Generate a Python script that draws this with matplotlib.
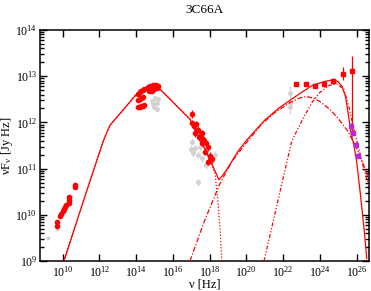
import numpy as np
import matplotlib
matplotlib.use("Agg")
import matplotlib.pyplot as plt
from matplotlib.ticker import FixedLocator, LogLocator, NullLocator

plt.rcParams['font.family'] = ['Liberation Serif', 'DejaVu Serif']
plt.rcParams['mathtext.fontset'] = 'custom'
plt.rcParams['mathtext.rm'] = 'Liberation Serif'
plt.rcParams['mathtext.it'] = 'Liberation Serif:italic'

RED = '#ff0000'
GRAY = '#d2d2d2'
PURPLE = '#b428e6'

# model curves, log10(nu) / log10(nuFnu)
total_lognu = [10.07, 10.6, 11.2, 11.8, 12.2, 12.4, 12.58, 13.12, 13.7, 14.21, 14.7, 15.14,
               15.6, 16.0, 16.5, 16.93, 17.5, 18.02, 18.29, 18.5, 18.7, 19.0, 19.55,
               20.02, 21.0, 21.8, 22.38, 23.0, 23.63, 24.3, 24.72, 25.0, 25.2, 25.4,
               25.55, 25.7, 25.85, 26.0, 26.2, 26.4, 26.55]
total_logf = [9.0, 9.65, 10.38, 11.1, 11.58, 11.78, 11.94, 12.19, 12.46, 12.70, 12.76, 12.78,
              12.60, 12.44, 12.24, 12.07, 11.62, 11.19, 10.95, 10.76, 10.85, 11.02, 11.38,
              11.62, 12.05, 12.32, 12.48, 12.65, 12.81, 12.89, 12.92, 12.88, 12.78, 12.55,
              12.15, 11.75, 11.5, 11.15, 10.45, 9.7, 9.05]

sync_tail_lognu = [18.29, 18.45, 18.58, 18.66]
sync_tail_logf = [10.9, 10.3, 9.6, 9.0]

ssc_lognu = [16.93, 17.7, 18.53, 19.2, 19.55, 20.02, 20.8, 21.5, 22.38, 22.9, 23.28,
             23.7, 24.0, 24.55, 25.0, 25.5, 26.0, 26.4, 26.67]
ssc_logf = [9.0, 9.85, 10.65, 11.15, 11.33, 11.57, 11.95, 12.2, 12.43, 12.53, 12.56,
            12.52, 12.45, 12.28, 12.08, 11.82, 11.45, 11.05, 10.8]

ec_lognu = [20.96, 21.5, 22.0, 22.47, 23.1, 23.6, 24.0, 24.5, 24.9, 25.3, 25.6, 25.82,
            26.09, 26.36, 26.67]
ec_logf = [9.0, 9.93, 10.8, 11.6, 12.1, 12.45, 12.65, 12.8, 12.84, 12.72, 12.3, 11.9,
           11.47, 11.04, 10.62]

# data points
radio_lognu = [9.70, 9.70, 9.88, 9.93, 10.04, 10.10, 10.15, 10.20, 10.35, 10.35, 10.35, 10.65, 10.66]
radio_logf = [9.85, 9.76, 9.98, 10.01, 10.09, 10.12, 10.16, 10.21, 10.25, 10.32, 10.39, 10.60, 10.64]
radio_gray_lognu = [9.19, 9.70]
radio_gray_logf = [9.50, 9.70]

opt_lognu = [14.12, 14.20, 14.28, 14.36, 14.44,
             14.66, 14.72, 14.78, 14.84, 14.90, 14.95, 15.02, 15.08, 15.12, 15.18, 14.70, 14.88,
             14.12, 14.20, 14.28, 14.38,
             14.12, 14.20, 14.28, 14.36, 14.45]
opt_logf = [12.62, 12.66, 12.69, 12.71, 12.73,
            12.77, 12.73, 12.79, 12.75, 12.80, 12.72, 12.78, 12.80, 12.74, 12.78, 12.68, 12.69,
            12.49, 12.51, 12.53, 12.55,
            12.33, 12.34, 12.35, 12.36, 12.37]
opt_gray_lognu = [14.85, 14.94, 15.03, 15.12, 15.15, 14.98, 15.20]
opt_gray_logf = [12.46, 12.40, 12.52, 12.42, 12.29, 12.33, 12.50]

xray_lognu = [17.03, 17.03, 17.15, 17.26, 17.20, 17.38, 17.42, 17.57, 17.57, 17.66,
              17.75, 17.80, 17.93, 17.93, 18.02, 18.11]
xray_logf = [12.18, 11.98, 11.92, 11.96, 11.76, 11.84, 11.68, 11.76, 11.56, 11.64,
             11.37, 11.55, 11.47, 11.15, 11.27, 11.20]
xray_gray_lognu = [17.03, 17.20, 17.08, 17.48, 17.38, 17.57, 18.29, 17.80, 17.38, 17.00]
xray_gray_logf = [11.58, 11.44, 11.33, 11.47, 11.30, 11.22, 11.30, 11.08, 10.70, 11.42]

gam_lognu = [22.70, 23.23, 23.74, 24.23, 24.73, 25.24, 25.73]
gam_logf = [12.83, 12.83, 12.79, 12.83, 12.90, 13.05, 13.12]
gam_err_lo = [0.0, 0.0, 0.04, 0.06, 0.07, 0.14, 1.42]
gam_err_hi = [0.0, 0.0, 0.04, 0.06, 0.07, 0.15, 0.31]

fermi_gray_lognu = [22.38, 22.38, 22.38]
fermi_gray_logf = [12.63, 12.42, 12.34]

vhe_lognu = [25.70, 25.82, 25.94, 26.05]
vhe_logf = [11.92, 11.78, 11.51, 11.28]

xtick_exps = [10, 12, 14, 16, 18, 20, 22, 24, 26]


def p(a):
    return np.power(10.0, np.asarray(a, dtype=float))


def errs(logf, lo, hi):
    f = p(logf)
    return [f - p(np.asarray(logf) - np.asarray(lo)), p(np.asarray(logf) + np.asarray(hi)) - f]


fig = plt.figure(figsize=(3.71, 2.91), dpi=100)
ax = fig.add_axes([40 / 371, 30 / 291, 329 / 371, 231 / 291])
ax.set_xscale('log')
ax.set_yscale('log')

# gray archival data
ax.errorbar(p(radio_gray_lognu), p(radio_gray_logf), fmt='o', ms=1.8, color=GRAY, zorder=1)
ax.errorbar(p(opt_gray_lognu), p(opt_gray_logf), yerr=errs(opt_gray_logf, [0.04] * 7, [0.04] * 7),
            fmt='o', ms=2.5, color=GRAY, elinewidth=0.8, capsize=0, zorder=1)
ax.errorbar(p(xray_gray_lognu), p(xray_gray_logf),
            yerr=errs(xray_gray_logf, [0.08] * 10, [0.08] * 10),
            xerr=[p(xray_gray_lognu) * (1 - 10 ** -0.08), p(xray_gray_lognu) * (10 ** 0.08 - 1)],
            fmt='o', ms=2.5, color=GRAY, elinewidth=0.8, capsize=0, zorder=1)
ax.errorbar(p(fermi_gray_lognu), p(fermi_gray_logf),
            yerr=errs(fermi_gray_logf, [0.15] * 3, [0.15] * 3),
            fmt='o', ms=2.5, color=GRAY, elinewidth=0.8, capsize=0, zorder=1)

# model
ax.plot(p(total_lognu), p(total_logf), '-', color=RED, lw=0.9, zorder=3)
ax.plot(p(total_lognu[:18] + sync_tail_lognu), p(total_logf[:18] + sync_tail_logf),
        linestyle=(0, (1, 1.5)), color=RED, lw=0.9, zorder=3)
ax.plot(p(ssc_lognu), p(ssc_logf), linestyle=(0, (4, 1.5, 1, 1.5)), color=RED, lw=0.9, zorder=3)
ax.plot(p(ec_lognu), p(ec_logf), linestyle=(0, (3, 1.5, 1, 1.5, 1, 1.5)), color=RED, lw=0.9, zorder=3)

# simultaneous data
ax.plot(p(radio_lognu), p(radio_logf), 'o', ms=3, color=RED, zorder=4)
ax.plot(p(opt_lognu), p(opt_logf), 'o', ms=3, color=RED, zorder=4)
ax.errorbar(p(xray_lognu), p(xray_logf), yerr=errs(xray_logf, [0.08] * 16, [0.08] * 16),
            xerr=[p(xray_lognu) * (1 - 10 ** -0.06), p(xray_lognu) * (10 ** 0.06 - 1)],
            fmt='o', ms=3, color=RED, elinewidth=0.9, capsize=0, zorder=4)
ax.errorbar(p(gam_lognu), p(gam_logf), yerr=errs(gam_logf, gam_err_lo, gam_err_hi),
            fmt='s', ms=3, color=RED, elinewidth=0.9, capsize=0, zorder=4)
ax.errorbar(p(vhe_lognu), p(vhe_logf), yerr=errs(vhe_logf, [0.06] * 4, [0.06] * 4),
            fmt='s', ms=3, color=PURPLE, ecolor=RED, elinewidth=0.8, capsize=0, zorder=5)

ax.set_xlim(10 ** 8.77, 10 ** 26.67)
ax.set_ylim(1e9, 1e14)

ax.xaxis.set_major_locator(FixedLocator(p(xtick_exps)))
ax.xaxis.set_minor_locator(NullLocator())
ax.yaxis.set_major_locator(LogLocator(base=10.0))
ax.yaxis.set_minor_locator(LogLocator(base=10.0, subs=np.arange(2, 10)))
ax.tick_params(which='both', direction='in', top=True, right=True, labelsize=8.5, width=1)
ax.tick_params(which='major', length=5)
ax.tick_params(which='minor', length=3)
ax.tick_params(axis='x', pad=3)
ax.tick_params(axis='y', pad=2)
for s in ax.spines.values():
    s.set_linewidth(1.1)

ax.set_xlabel('ν [Hz]', fontsize=9, labelpad=-1)
ax.set_ylabel('νF$_\\mathregular{ν}$ [Jy Hz]', fontsize=9, labelpad=0)
ax.set_title('3C66A', fontsize=9.5, pad=12)

fig.savefig('out.png', dpi=100)
